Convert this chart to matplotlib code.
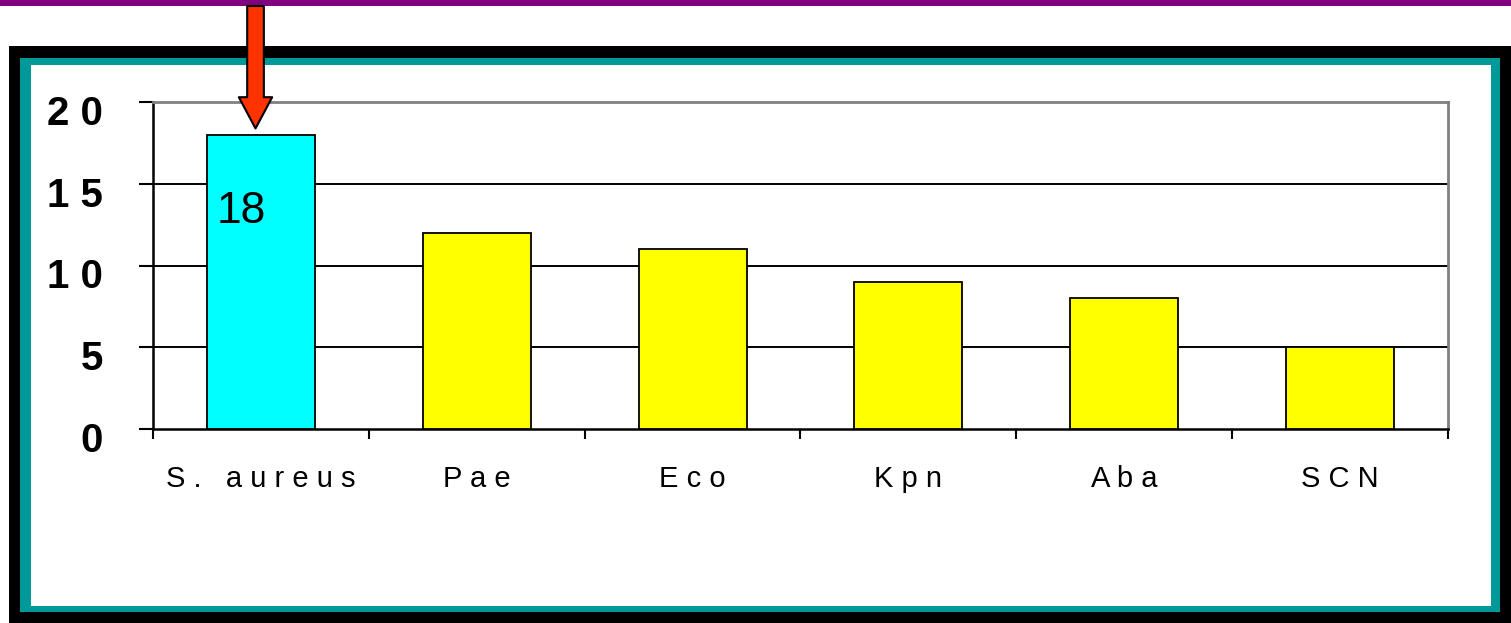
import numpy as np
import matplotlib
matplotlib.use("Agg")
import matplotlib.pyplot as plt
import matplotlib.transforms as mtransforms
from matplotlib.patches import Rectangle

# 菌种分布数据
categories = ["S. aureus", "Pae", "Eco", "Kpn", "Aba", "SCN"]
values = [18, 12, 11, 9, 8, 5]
bar_colors = ["#00FFFF", "#FFFF00", "#FFFF00", "#FFFF00", "#FFFF00", "#FFFF00"]
y_ticks = [0, 5, 10, 15, 20]

plt.rcParams['font.family'] = ['Liberation Sans', 'DejaVu Sans']

W, H = 1511, 623
fig = plt.figure(figsize=(W / 100, H / 100), dpi=100)


def px_rect(x0, y0, x1, y1, color):
    # 按像素(左上为原点)画矩形
    fig.patches.append(Rectangle((x0 / W, 1 - y1 / H), (x1 - x0) / W, (y1 - y0) / H,
                                 transform=fig.transFigure, facecolor=color,
                                 edgecolor='none', zorder=-10))


# 顶部紫色线和外框
px_rect(0, 0, W, 6, '#800080')
px_rect(9, 46, W + 5, H + 5, 'black')
px_rect(20, 58, 1500, 612, '#009999')
px_rect(31, 65, 1491, 606, 'white')

ax = fig.add_axes([153 / W, 1 - 429 / H, (1448 - 153) / W, (429 - 102) / H])
ax.set_facecolor('none')

x = np.arange(len(categories))
ax.bar(x, values, width=0.5, color=bar_colors, edgecolor='black', linewidth=1.3, zorder=3)

ax.set_xlim(-0.5, len(categories) - 0.5)
ax.set_ylim(0, 20)

# 网格线
for v in y_ticks[1:-1]:
    ax.axhline(v, color='black', lw=1.4, zorder=1)

ax.spines['left'].set_color('black')
ax.spines['bottom'].set_color('black')
ax.spines['left'].set_linewidth(1.8)
ax.spines['bottom'].set_linewidth(1.8)
ax.spines['top'].set_color('#808080')
ax.spines['right'].set_color('#808080')
ax.spines['top'].set_linewidth(2)
ax.spines['right'].set_linewidth(2)

# y轴
ax.set_yticks(y_ticks)
ax.set_yticklabels([" ".join(str(v)) for v in y_ticks], fontsize=29, fontweight='bold')
ax.tick_params(axis='y', direction='out', length=10, width=1.5, pad=26)
offset = mtransforms.ScaledTranslation(0, -8 / 100, fig.dpi_scale_trans)
for lab in ax.get_yticklabels():
    lab.set_transform(lab.get_transform() + offset)

# x轴：刻度在类别之间
ax.set_xticks(x)
ax.set_xticklabels([" ".join(c) for c in categories], fontsize=21)
ax.tick_params(axis='x', which='major', length=0, pad=26)
ax.set_xticks(np.arange(-0.5, len(categories)), minor=True)
ax.tick_params(axis='x', which='minor', direction='out', length=7, width=1.5)

# 数值标注
ax.text(-0.205, values[0] - 4.7, str(values[0]), fontsize=32, ha='left', va='center', zorder=4)

# 红色箭头指向第一根柱子
ax.annotate("", xy=(-0.025, values[0]), xycoords='data',
            xytext=(-0.025, H - 6), textcoords=('data', 'figure pixels'),
            arrowprops=dict(arrowstyle="simple,head_length=2.25,head_width=2.4,tail_width=1.2",
                            mutation_scale=10, fc='#FF3300', ec='black', lw=1.5,
                            shrinkA=0, shrinkB=4.5),
            annotation_clip=False)

plt.savefig('out.png', dpi=100)
